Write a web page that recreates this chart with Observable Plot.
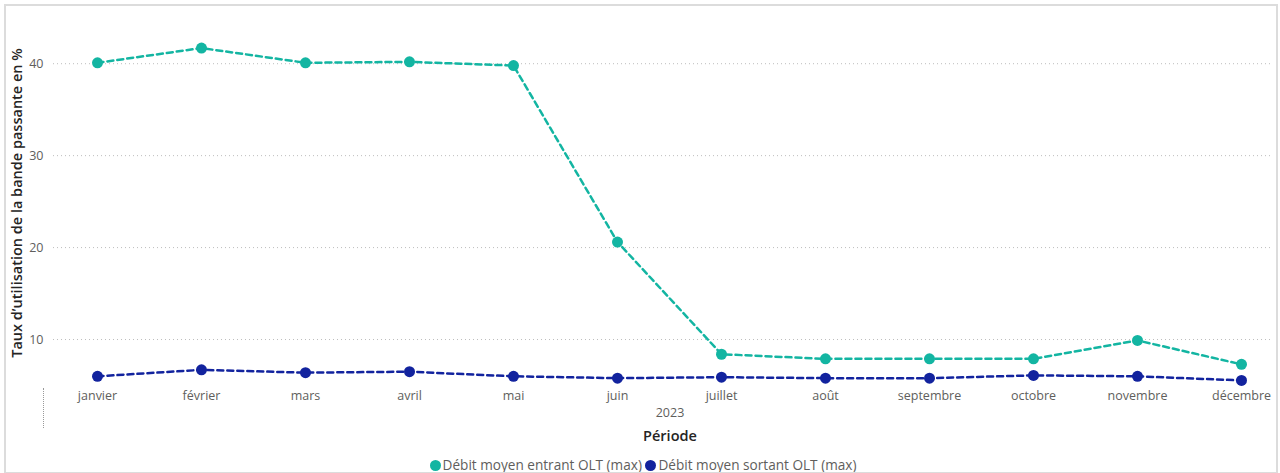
<!DOCTYPE html>
<html>
<head>
<meta charset="utf-8">
<script src="https://cdn.jsdelivr.net/npm/d3@7"></script>
<script src="https://cdn.jsdelivr.net/npm/@observablehq/plot@0.6"></script>
<style>
  html, body { margin: 0; padding: 0; background: #fff; }
  #wrap { position: relative; width: 1280px; height: 473px; overflow: hidden; font-family: "Open Sans", "Noto Sans", sans-serif; }
  #frame { position: absolute; left: 4px; top: 4px; width: 1270px; height: 466px; border: 2px solid #dcdcdc; box-sizing: content-box; pointer-events: none; }
  #chart { position: absolute; left: 0; top: 0; }
  #legend { position: absolute; left: 0; width: 1286px; top: 455px; text-align: center; font-size: 13.6px; color: #605E5C; white-space: nowrap; }
  #legend .sw { display: inline-block; width: 11px; height: 11px; border-radius: 50%; vertical-align: -1px; margin-right: 2px; }
  #dots { position: absolute; left: 43px; top: 388px; height: 40px; border-left: 1px dotted #999; }
</style>
</head>
<body>
<div id="wrap">
  <div id="chart"></div>
  <div id="dots"></div>
  <div id="legend"></div>
  <div id="frame"></div>
</div>
<script>
const months = ["janvier","février","mars","avril","mai","juin","juillet","août","septembre","octobre","novembre","décembre"];
const entrant = [40.1, 41.7, 40.1, 40.2, 39.8, 20.6, 8.4, 7.9, 7.9, 7.9, 9.9, 7.3];
const sortant = [6.0, 6.7, 6.4, 6.5, 6.0, 5.8, 5.9, 5.8, 5.8, 6.1, 6.0, 5.55];
const seriesNames = ["Débit moyen entrant OLT (max)", "Débit moyen sortant OLT (max)"];
const seriesColors = ["#13B5A2", "#12239E"];
const yTicks = [10, 20, 30, 40];
const yearLabel = "2023";
const xTitle = "Période";
const yTitle = "Taux d’utilisation de la bande passante en %";

const data = [];
months.forEach((m, i) => data.push({month: m, value: entrant[i], series: seriesNames[0]}));
months.forEach((m, i) => data.push({month: m, value: sortant[i], series: seriesNames[1]}));

const chart = Plot.plot({
  width: 1280,
  height: 450,
  marginTop: 20,
  marginBottom: 65,
  marginLeft: 53,
  marginRight: 10,
  style: {fontFamily: "'Open Sans', 'Noto Sans', sans-serif", fontSize: "12px", color: "#605E5C", background: "transparent"},
  x: {type: "point", domain: months, padding: 0, insetLeft: 43, insetRight: 28, label: null},
  y: {domain: [5, 44.7], label: null},
  color: {domain: seriesNames, range: seriesColors},
  marks: [
    Plot.gridY(yTicks, {stroke: "#bdbdbd", strokeOpacity: 1, strokeDasharray: "1,3"}),
    Plot.axisY(yTicks, {tickSize: 0, tickPadding: 10, fill: "#605E5C", fontSize: 12.5, label: null}),
    Plot.axisX({tickSize: 0, tickPadding: 6, fill: "#605E5C", fontSize: 12.5, label: null}),
    Plot.line(data, {x: "month", y: "value", z: "series", stroke: "series", strokeWidth: 2.5, strokeDasharray: "6,4"}),
    Plot.dot(data, {x: "month", y: "value", fill: "series", r: 5.5}),
    Plot.text([yearLabel], {frameAnchor: "bottom", dx: 8, dy: 31, fill: "#605E5C", fontSize: 12.5}),
    Plot.text([xTitle], {frameAnchor: "bottom", dx: 8, dy: 55, fill: "#252423", fontSize: 14.5, fontWeight: 600}),
    Plot.text([yTitle], {frameAnchor: "left", textAnchor: "middle", dx: -36, rotate: -90, fill: "#252423", fontSize: 14.5, fontWeight: 600})
  ]
});
document.getElementById("chart").appendChild(chart);

const legend = document.getElementById("legend");
legend.innerHTML = seriesNames.map((n, i) =>
  `<span class="sw" style="background:${seriesColors[i]}"></span>${n}`).join("&nbsp;");
</script>
</body>
</html>
